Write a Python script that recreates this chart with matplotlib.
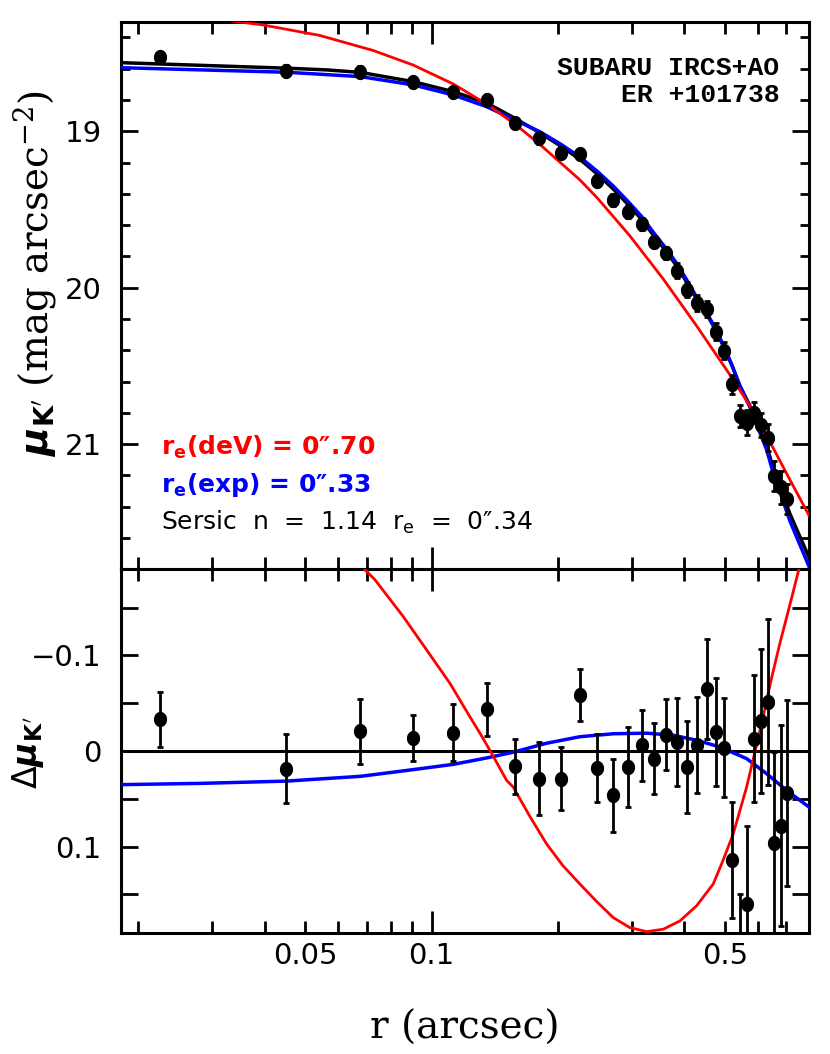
import numpy as np
import matplotlib.pyplot as plt
from matplotlib.path import Path
from matplotlib.ticker import FixedLocator, MultipleLocator, FuncFormatter

plt.rcParams['mathtext.fontset'] = 'dejavusans'

# ---- data ----
r = [0.0225, 0.0451, 0.0677, 0.0901, 0.1126, 0.1352, 0.1579, 0.1805, 0.2029, 0.2256,
     0.2481, 0.2708, 0.2931, 0.3166, 0.3386, 0.3616, 0.3835, 0.4064, 0.4293, 0.4520,
     0.4750, 0.4980, 0.5203, 0.5428, 0.5640, 0.5871, 0.6089, 0.6317, 0.6550, 0.6785, 0.7011]
mu = [18.527, 18.613, 18.619, 18.687, 18.747, 18.803, 18.945, 19.045, 19.137, 19.145,
      19.316, 19.439, 19.514, 19.594, 19.705, 19.780, 19.891, 20.014, 20.099, 20.137,
      20.281, 20.402, 20.617, 20.819, 20.862, 20.798, 20.877, 20.958, 21.203, 21.277, 21.351]
err = [0.0285, 0.036, 0.034, 0.0245, 0.0297, 0.0275, 0.029, 0.038, 0.033, 0.0275,
       0.0355, 0.038, 0.042, 0.037, 0.037, 0.037, 0.046, 0.048, 0.050, 0.052,
       0.0565, 0.0516, 0.061, 0.07, 0.0815, 0.066, 0.075, 0.0866, 0.095, 0.105, 0.097]
dmu = [-0.033, 0.0185, -0.0207, -0.0136, -0.0193, -0.0434, 0.016, 0.029, 0.029, -0.0584,
       0.0174, 0.0465, 0.0168, -0.006, 0.008, -0.0172, -0.0094, 0.0168, -0.006, -0.0647,
       -0.0199, -0.0036, 0.114, 0.22, 0.1595, -0.013, -0.0312, -0.0514, 0.0965, 0.078, 0.044]

# sersic fit (black)
r_ser = [0.01825, 0.04512, 0.0562, 0.06772, 0.0904, 0.1126, 0.1352, 0.1579, 0.1805, 0.2029,
         0.2256, 0.2481, 0.2708, 0.2931, 0.3166, 0.3386, 0.3616, 0.3835, 0.4064, 0.4293,
         0.452, 0.475, 0.498, 0.5203, 0.5428, 0.5733, 0.6, 0.6282, 0.6514, 0.6822, 0.714,
         0.7544, 0.7938]
mu_ser = [18.562, 18.597, 18.608, 18.624, 18.683, 18.747, 18.819, 18.917, 19.008, 19.094,
          19.180, 19.273, 19.369, 19.465, 19.564, 19.669, 19.765, 19.861, 19.969, 20.078,
          20.167, 20.270, 20.385, 20.500, 20.627, 20.755, 20.883, 21.011, 21.152, 21.298,
          21.445, 21.592, 21.727]

# exponential fit (blue)
r_exp = [0.01825, 0.04512, 0.06772, 0.0904, 0.1126, 0.1352, 0.1579, 0.1805, 0.2029, 0.2256,
         0.2481, 0.2708, 0.2931, 0.3166, 0.3386, 0.3616, 0.3835, 0.4064, 0.4293, 0.452,
         0.475, 0.498, 0.5203, 0.5428, 0.5733, 0.6, 0.6282, 0.6514, 0.6822, 0.714, 0.7544,
         0.7938]
mu_exp = [18.594, 18.623, 18.651, 18.704, 18.768, 18.843, 18.928, 19.001, 19.082, 19.165,
          19.256, 19.350, 19.446, 19.545, 19.651, 19.748, 19.844, 19.955, 20.067, 20.159,
          20.263, 20.381, 20.500, 20.631, 20.764, 20.900, 21.035, 21.183, 21.337, 21.491,
          21.644, 21.785]

# de Vaucouleurs fit (red)
r_dev = [0.03219, 0.0397, 0.05418, 0.0726, 0.0904, 0.1126, 0.1352, 0.1579, 0.1805, 0.2256,
         0.2481, 0.2968, 0.3563, 0.4279, 0.5138, 0.5733, 0.6398, 0.714, 0.7938]
mu_dev = [18.289, 18.321, 18.388, 18.484, 18.577, 18.698, 18.826, 18.954, 19.081, 19.311,
          19.426, 19.669, 19.944, 20.244, 20.557, 20.755, 20.985, 21.228, 21.458]

# residual curves (bottom panel)
r_dres = [0.0687, 0.07327, 0.08557, 0.0973, 0.1106, 0.1234, 0.1304, 0.1377, 0.1509, 0.1565,
          0.1715, 0.1879, 0.2055, 0.2256, 0.2477, 0.2708, 0.2968, 0.3254, 0.3563, 0.3905,
          0.4279, 0.4688, 0.4944, 0.5232, 0.5428, 0.5631, 0.5891, 0.6166, 0.6432, 0.6759,
          0.714, 0.7515]
d_dev = [-0.1914, -0.1791, -0.1406, -0.1057, -0.0707, -0.0357, -0.0186, -0.0007, 0.0307, 0.0378,
         0.0685, 0.0972, 0.1199, 0.1391, 0.1577, 0.1742, 0.1847, 0.1889, 0.1864, 0.1777,
         0.1619, 0.1391, 0.1147, 0.0867, 0.0622, 0.0378, 0.0014, -0.0357, -0.0731, -0.1127,
         -0.1529, -0.1914]
r_eres = [0.01825, 0.02805, 0.04512, 0.06772, 0.0904, 0.1126, 0.1352, 0.1565, 0.1879, 0.2256,
          0.2708, 0.3254, 0.3764, 0.4279, 0.4863, 0.5631, 0.6282, 0.7011, 0.7938]
d_exp = [0.0352, 0.0339, 0.0315, 0.0265, 0.0195, 0.014, 0.0073, 0.0013, -0.0081, -0.0149,
         -0.018, -0.0186, -0.0165, -0.0112, -0.0042, 0.008, 0.0237, 0.0412, 0.0588]

# slightly tall elliptical marker like the original
t = np.linspace(0, 2 * np.pi, 40)
ell = Path(np.column_stack([0.85 * np.cos(t), np.sin(t)]))

fig = plt.figure(figsize=(8.3, 10.54), dpi=100)
ax1 = fig.add_axes([0.1458, 0.4599, 0.8293, 0.5195])
ax2 = fig.add_axes([0.1458, 0.1151, 0.8293, 0.3448], sharex=ax1)

# top panel: profile
ax1.plot(r_ser, mu_ser, color='black', lw=2.5, zorder=2)
ax1.plot(r_exp, mu_exp, color='blue', lw=2.5, zorder=3)
ax1.plot(r_dev, mu_dev, color='red', lw=2, zorder=4)
ax1.errorbar(r, mu, yerr=err, fmt='none', ecolor='black', elinewidth=2,
             capsize=2, capthick=2, zorder=5)
ax1.plot(r, mu, ls='none', marker=ell, ms=10, color='black', zorder=6)

# bottom panel: residuals
ax2.axhline(0, color='black', lw=2.2, zorder=1)
ax2.plot(r_eres, d_exp, color='blue', lw=2.5, zorder=3)
ax2.plot(r_dres, d_dev, color='red', lw=2, zorder=4)
ax2.errorbar(r, dmu, yerr=err, fmt='none', ecolor='black', elinewidth=2,
             capsize=2, capthick=2, zorder=5)
ax2.plot(r, dmu, ls='none', marker=ell, ms=10, color='black', zorder=6)

ax1.set_xscale('log')
ax1.set_xlim(10 ** -1.74, 10 ** -0.1)
ax1.set_ylim(21.8, 18.3)
ax2.set_ylim(0.19, -0.19)

# x ticks: long tick at 0.1, labels at 0.05, 0.1, 0.5
ax2.xaxis.set_major_locator(FixedLocator([0.1]))
ax2.xaxis.set_minor_locator(FixedLocator([0.02, 0.03, 0.04, 0.05, 0.06, 0.07, 0.08, 0.09,
                                          0.2, 0.3, 0.4, 0.5, 0.6, 0.7]))
ax2.xaxis.set_major_formatter(FuncFormatter(lambda v, p: '0.1'))
ax2.xaxis.set_minor_formatter(FuncFormatter(
    lambda v, p: {0.05: '0.05', 0.5: '0.5'}.get(round(v, 3), '')))

ax1.yaxis.set_major_locator(MultipleLocator(1))
ax1.yaxis.set_minor_locator(MultipleLocator(0.2))
ax1.yaxis.set_major_formatter(FuncFormatter(lambda v, p: '%d' % round(v)))


def dfmt(v, p):
    k = round(v / 0.1)
    if abs(k - v / 0.1) > 1e-6:
        return ''
    if k == 0:
        return '0'
    return ('\u22120.1' if k < 0 else '0.1') if abs(k) == 1 else ''


ax2.yaxis.set_major_locator(MultipleLocator(0.05))
ax2.yaxis.set_major_formatter(FuncFormatter(dfmt))

for ax in (ax1, ax2):
    for s in ax.spines.values():
        s.set_linewidth(2.2)
    ax.tick_params(which='both', direction='in', top=True, right=True, width=2,
                   labelsize=21, colors='black')
    ax.tick_params(axis='x', which='major', length=16, pad=7)
    ax.tick_params(axis='x', which='minor', length=8.5, pad=7)
    ax.tick_params(axis='y', which='both', pad=14)
ax1.tick_params(axis='y', which='major', length=12)
ax1.tick_params(axis='y', which='minor', length=6.5)
ax2.tick_params(axis='y', which='major', length=12)
ax1.tick_params(axis='x', which='both', labelbottom=False)

# labels
ax1.set_ylabel(r"$\boldsymbol{\mu}_{\mathbf{K'}}$ (mag arcsec$^{-2}$)",
               fontsize=28, family='DejaVu Serif', va='center')
ax1.yaxis.set_label_coords(-0.125, 0.54)
ax2.set_ylabel(r"$\Delta\boldsymbol{\mu}_{\mathbf{K'}}$", fontsize=24, va='center')
ax2.yaxis.set_label_coords(-0.135, 0.494)
ax2.set_xlabel('r (arcsec)', fontsize=28, family='DejaVu Serif', va='center')
ax2.xaxis.set_label_coords(0.5, -0.262)

# annotations
ax1.text(0.957, 0.9027, 'SUBARU IRCS+AO', transform=ax1.transAxes, ha='right',
         va='baseline', fontsize=19, family='Liberation Mono', weight='bold')
ax1.text(0.957, 0.854, 'ER +101738', transform=ax1.transAxes, ha='right',
         va='baseline', fontsize=19, family='Liberation Mono', weight='bold')

plt.rcParams['mathtext.default'] = 'regular'
ax1.text(0.0577, 0.2087, 'r$_e$(deV) = 0\u2033.70', transform=ax1.transAxes,
         va='baseline', fontsize=18, weight='bold', color='red')
ax1.text(0.0577, 0.1417, 'r$_e$(exp) = 0\u2033.33', transform=ax1.transAxes,
         va='baseline', fontsize=18, weight='bold', color='blue')
ax1.text(0.0577, 0.0718, 'Sersic  n  =  1.14  r$_e$  =  0\u2033.34', transform=ax1.transAxes,
         va='baseline', fontsize=18, color='black')

fig.savefig('out.png', dpi=100)
